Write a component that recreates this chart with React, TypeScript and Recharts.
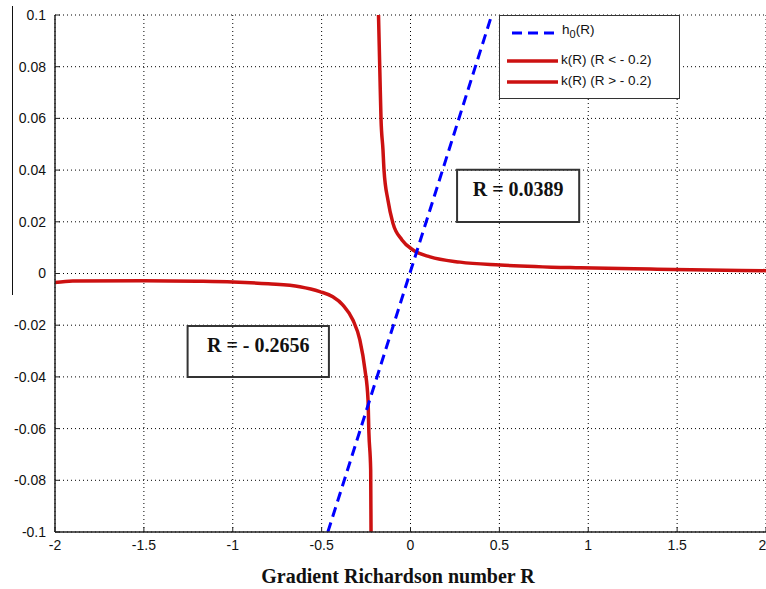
import React from 'react';
import {
    LineChart,
    Line,
    XAxis,
    YAxis,
    CartesianGrid,
    ReferenceArea,
    Legend
} from 'recharts';

const xTicks = [-2, -1.5, -1, -0.5, 0, 0.5, 1, 1.5, 2];
const yTicks = [-0.1, -0.08, -0.06, -0.04, -0.02, 0, 0.02, 0.04, 0.06, 0.08, 0.1];

// h0(R) - straight dashed line
const hR = [-0.465, 0.457];
const hVal = [-0.1, 0.1];

// k(R), branch for R < -0.2
const kLeftR = [-2, -1.9, -1.5, -1.2, -1, -0.8, -0.623, -0.51, -0.437, -0.38, -0.324, -0.285, -0.256, -0.239, -0.234, -0.224, -0.222];
const kLeftVal = [-0.0035, -0.0029, -0.0028, -0.003, -0.0033, -0.004, -0.0051, -0.007, -0.009, -0.0122, -0.018, -0.0257, -0.0373, -0.0489, -0.0617, -0.076, -0.1];

// k(R), branch for R > -0.2
const kRightR = [-0.18, -0.172, -0.166, -0.155, -0.149, -0.127, -0.099, -0.048, 0.014, 0.11, 0.279, 0.504, 0.955, 1.35, 1.86, 2];
const kRightVal = [0.1, 0.0768, 0.06, 0.048, 0.04, 0.0284, 0.0195, 0.013, 0.0091, 0.0064, 0.0044, 0.0033, 0.0022, 0.0017, 0.0012, 0.0011];

const hData = hR.map((r, i) => ({ r, v: hVal[i] }));
const kLeftData = kLeftR.map((r, i) => ({ r, v: kLeftVal[i] }));
const kRightData = kRightR.map((r, i) => ({ r, v: kRightVal[i] }));

const RED = '#cc1111';
const BLUE = '#0000ff';
const AXIS = '#222';
const tickFont = { fontSize: 14, fill: '#111', fontFamily: '"Liberation Sans", Arial, sans-serif' };
const boxLabel = {
    position: 'insideTop' as const,
    offset: 12,
    fontSize: 20,
    fontWeight: 'bold',
    fontFamily: '"Liberation Serif", "Times New Roman", serif',
    fill: '#111'
};

function LegendBox() {
    const text: React.CSSProperties = {
        position: 'absolute',
        fontSize: 13.5,
        fontFamily: '"Liberation Sans", Arial, sans-serif',
        color: '#111',
        lineHeight: '16px',
        whiteSpace: 'nowrap'
    };
    return (
        <div style={{
            position: 'relative', width: 181, height: 84, boxSizing: 'border-box',
            border: '1.5px solid #333', background: '#fff'
        }}>
            <svg width={181} height={84} style={{ position: 'absolute', left: -1.5, top: -1.5 }}>
                <line x1={13} x2={59} y1={18} y2={18} stroke={BLUE} strokeWidth={3} strokeDasharray="10 6" />
                <line x1={8} x2={59} y1={46} y2={46} stroke={RED} strokeWidth={3.5} />
                <line x1={8} x2={59} y1={67} y2={67} stroke={RED} strokeWidth={3.5} />
            </svg>
            <div style={{ ...text, left: 62, top: 6 }}>h<sub style={{ fontSize: 11 }}>0</sub>(R)</div>
            <div style={{ ...text, left: 61, top: 36 }}>k(R) (R &lt; - 0.2)</div>
            <div style={{ ...text, left: 61, top: 57 }}>k(R) (R &gt; - 0.2)</div>
        </div>
    );
}

export default function App() {
    return (
        <div style={{ position: 'absolute', left: 0, top: 0, width: 766, height: 589, overflow: 'hidden', background: '#fff' }}>
            <div style={{ position: 'absolute', left: 12, top: 6, width: 1, height: 289, background: '#111' }} />
            <LineChart
                width={766}
                height={589}
                margin={{ top: 15, right: 0, bottom: 27, left: 5 }}
            >
                <CartesianGrid stroke="#000" strokeDasharray="1 3" />
                <XAxis
                    dataKey="r"
                    type="number"
                    domain={[-2, 2]}
                    ticks={xTicks}
                    allowDataOverflow
                    height={30}
                    tickSize={-5}
                    tickMargin={13}
                    tick={tickFont}
                    tickLine={{ stroke: AXIS }}
                    axisLine={{ stroke: AXIS, strokeWidth: 1.5 }}
                    tickFormatter={(v: number) => String(v)}
                />
                <XAxis
                    xAxisId="top"
                    orientation="top"
                    type="number"
                    domain={[-2, 2]}
                    ticks={xTicks}
                    height={0}
                    tickSize={-5}
                    tick={tickFont}
                    tickLine={{ stroke: AXIS }}
                    axisLine={{ stroke: AXIS, strokeWidth: 1.5 }}
                    tickFormatter={() => ''}
                />
                <YAxis
                    type="number"
                    domain={[-0.1, 0.1]}
                    ticks={yTicks}
                    allowDataOverflow
                    width={50}
                    tickSize={-5}
                    tickMargin={14}
                    tick={tickFont}
                    tickLine={{ stroke: AXIS }}
                    axisLine={{ stroke: AXIS, strokeWidth: 1.5 }}
                    tickFormatter={(v: number) => String(Number(v.toFixed(2)))}
                />
                <ReferenceArea
                    x1={0.262} x2={0.949} y1={0.0199} y2={0.0401}
                    fill="none" stroke="#333" strokeWidth={2} fillOpacity={0}
                    label={{ value: 'R = 0.0389', ...boxLabel }}
                />
                <ReferenceArea
                    x1={-1.254} x2={-0.459} y1={-0.040} y2={-0.0203}
                    fill="none" stroke="#333" strokeWidth={2} fillOpacity={0}
                    label={{ value: 'R = - 0.2656', ...boxLabel }}
                />
                <Line
                    data={kLeftData}
                    dataKey="v"
                    name="k(R) (R < - 0.2)"
                    type="monotone"
                    stroke={RED}
                    strokeWidth={3.5}
                    dot={false}
                    isAnimationActive={false}
                />
                <Line
                    data={kRightData}
                    dataKey="v"
                    name="k(R) (R > - 0.2)"
                    type="monotone"
                    stroke={RED}
                    strokeWidth={3.5}
                    dot={false}
                    isAnimationActive={false}
                />
                <Line
                    data={hData}
                    dataKey="v"
                    name="h0(R)"
                    type="linear"
                    stroke={BLUE}
                    strokeWidth={3}
                    strokeDasharray="10 6"
                    dot={false}
                    isAnimationActive={false}
                />
                <Legend
                    layout="vertical"
                    align="center"
                    verticalAlign="middle"
                    wrapperStyle={{ left: 499, top: 15, width: 181, height: 84 }}
                    content={() => <LegendBox />}
                />
            </LineChart>
            <div style={{
                position: 'absolute', left: 0, width: 796, top: 566, textAlign: 'center',
                fontFamily: '"Liberation Serif", "Times New Roman", serif', fontWeight: 'bold',
                fontSize: 20, lineHeight: '20px', color: '#111', whiteSpace: 'nowrap'
            }}>
                Gradient Richardson number R
            </div>
        </div>
    );
}
